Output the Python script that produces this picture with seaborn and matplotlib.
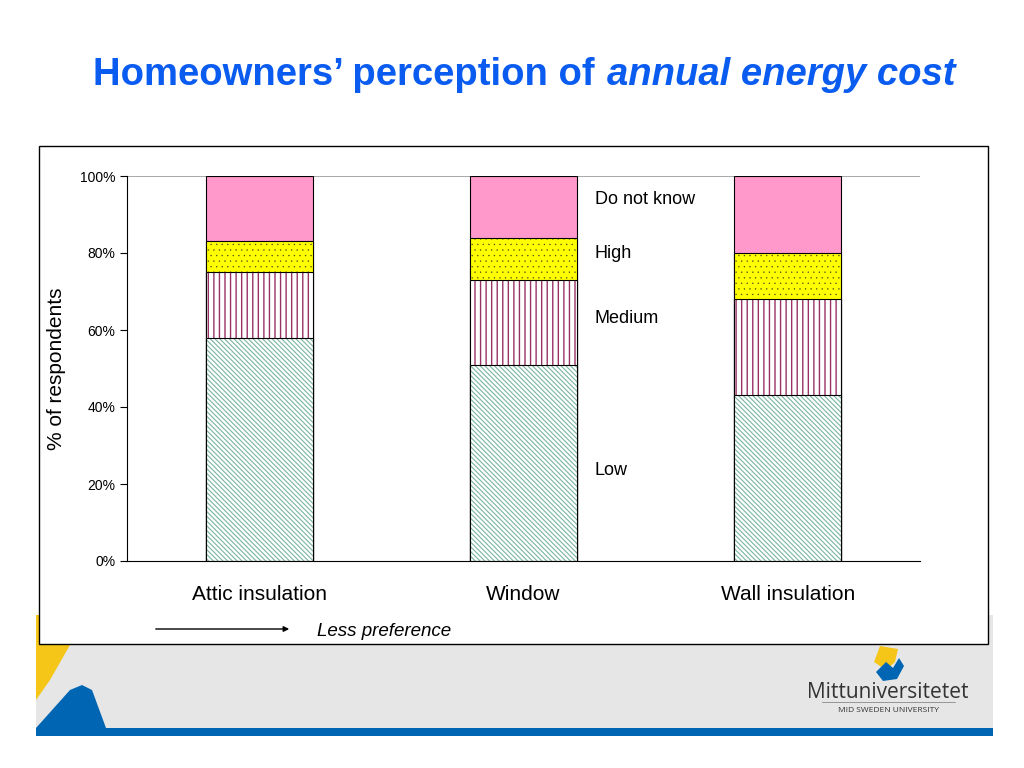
import matplotlib
matplotlib.use("Agg")
import matplotlib.pyplot as plt
import matplotlib.patches as mpatches
import numpy as np
import pandas as pd
import seaborn as sns

categories = ["Attic insulation", "Window", "Wall insulation"]
low = [58, 51, 43]
medium = [17, 22, 25]
high = [8, 11, 12]
do_not_know = [17, 16, 20]
series_names = ["Low", "Medium", "High", "Do not know"]
y_ticks = [0, 20, 40, 60, 80, 100]
y_tick_labels = ["0%", "20%", "40%", "60%", "80%", "100%"]

sns.set_theme(style="white")
plt.rcParams['font.family'] = ['Liberation Sans', 'DejaVu Sans']
plt.rcParams['text.color'] = 'black'
plt.rcParams['axes.labelcolor'] = 'black'
plt.rcParams['xtick.color'] = 'black'
plt.rcParams['ytick.color'] = 'black'

fig = plt.figure(figsize=(10.24, 7.68), dpi=100)
fig.patch.set_facecolor("white")

W, H = 1024, 768
def fx(x): return x / W
def fy(y): return 1 - y / H

# slide decoration: grey band, blue bar, left shapes
fig.add_artist(mpatches.Rectangle((fx(36), fy(728)), fx(993 - 36), (728 - 615) / H,
                                  transform=fig.transFigure, facecolor="#e6e6e6",
                                  edgecolor="none", zorder=0))
fig.add_artist(mpatches.Rectangle((fx(36), fy(736)), fx(993 - 36), 8 / H,
                                  transform=fig.transFigure, facecolor="#0066b3",
                                  edgecolor="none", zorder=0))
fig.add_artist(mpatches.Polygon([(fx(36), fy(700)), (fx(36), fy(615)), (fx(78), fy(615)),
                                 (fx(70), fy(645)), (fx(50), fy(680))],
                                transform=fig.transFigure, facecolor="#f5c518",
                                edgecolor="none", zorder=0))
fig.add_artist(mpatches.Polygon([(fx(36), fy(728)), (fx(70), fy(690)), (fx(82), fy(685)),
                                 (fx(92), fy(690)), (fx(106), fy(728))],
                                transform=fig.transFigure, facecolor="#0066b3",
                                edgecolor="none", zorder=0))
# logo
fig.add_artist(mpatches.Polygon([(fx(874), fy(662)), (fx(880), fy(646)), (fx(898), fy(649)),
                                 (fx(895), fy(662)), (fx(886), fy(670))],
                                transform=fig.transFigure, facecolor="#f5c518",
                                edgecolor="none", zorder=1))
fig.add_artist(mpatches.Polygon([(fx(876), fy(672)), (fx(886), fy(662)), (fx(893), fy(668)),
                                 (fx(899), fy(658)), (fx(904), fy(666)), (fx(897), fy(679)),
                                 (fx(883), fy(681))],
                                transform=fig.transFigure, facecolor="#0066b3",
                                edgecolor="none", zorder=1))
fig.text(fx(888), fy(692), "Mittuniversitetet", ha="center", va="center",
         fontsize=15, color="#333333", family=["Open Sans", "DejaVu Sans"], zorder=2)
fig.add_artist(plt.Line2D([fx(822), fx(955)], [fy(702), fy(702)], transform=fig.transFigure,
                          color="#888888", linewidth=0.6, zorder=2))
fig.text(fx(888), fy(710), "MID SWEDEN UNIVERSITY", ha="center", va="center",
         fontsize=6, color="#333333", family=["Open Sans", "DejaVu Sans"], zorder=2)

# chart box
fig.add_artist(mpatches.Rectangle((fx(39), fy(644)), fx(988 - 39), (644 - 146) / H,
                                  transform=fig.transFigure, facecolor="white",
                                  edgecolor="black", linewidth=1.0, zorder=1))

# title
title_size = 27.5
t = fig.text(fx(93), fy(75), "Homeowners\u2019 perception of ", ha="left", va="center",
             fontsize=title_size, fontweight="bold", color="#0a5cf0", zorder=3)
fig.canvas.draw()
bb = t.get_window_extent()
fig.text(bb.x1 / W + 0.002, fy(75), "annual energy cost", ha="left", va="center",
         fontsize=title_size, fontweight="bold", style="italic", color="#0a5cf0", zorder=3)

ax = fig.add_axes([fx(127), fy(561), fx(920 - 127), (561 - 176) / H])
ax.set_zorder(2)
ax.patch.set_alpha(0)

df = pd.DataFrame({"category": categories, "Low": low, "Medium": medium,
                   "High": high, "Do not know": do_not_know})
cum = df[series_names].cumsum(axis=1)

styles = {
    "Do not know": dict(face="#ff99cc", hatch=None, hc="#ff99cc", hlw=1.0),
    "High": dict(face="#ffff00", hatch="...", hc="#444422", hlw=0.2),
    "Medium": dict(face="white", hatch="|||", hc="#993366", hlw=1.0),
    "Low": dict(face="white", hatch="\\" * 7, hc="#7ab5a0", hlw=0.8),
}

bar_width = 0.405
for name in reversed(series_names):
    st = styles[name]
    with plt.rc_context({"hatch.linewidth": st["hlw"]}):
        n0 = len(ax.patches)
        sns.barplot(x=df["category"], y=cum[name], ax=ax, width=bar_width,
                    color=st["face"], saturation=1, order=categories)
        for p in ax.patches[n0:]:
            p.set_facecolor(st["face"])
            if st["hatch"]:
                p.set_hatch(st["hatch"])
            p.set_edgecolor(st["hc"])
            p.set_linewidth(0)
            if hasattr(p, "set_hatch_linewidth"):
                p.set_hatch_linewidth(st["hlw"])
    # border
    n1 = len(ax.patches)
    sns.barplot(x=df["category"], y=cum[name], ax=ax, width=bar_width,
                fill=False, order=categories)
    for p in ax.patches[n1:]:
        p.set_edgecolor("black")
        p.set_linewidth(0.8)
        p.set_facecolor("none")

ax.set_xlim(-0.5, 2.5)
ax.set_ylim(0, 100)
ax.set_yticks(y_ticks)
ax.set_yticklabels(y_tick_labels, fontsize=10)
ax.set_xticks([0, 1, 2])
ax.set_xticklabels(categories, fontsize=15)
ax.set_xticks([-0.5, 0.5, 1.5, 2.5], minor=True)
ax.tick_params(axis="x", which="major", length=0, pad=17)
ax.tick_params(axis="x", which="minor", length=5, width=0.8, direction="out", color="black")
ax.tick_params(axis="y", which="major", length=5, width=0.8, direction="out", color="black", left=True)
ax.axhline(100, color="#999999", linewidth=1.2, zorder=0)
for s in ["top", "right"]:
    ax.spines[s].set_visible(False)
ax.spines["left"].set_color("black")
ax.spines["bottom"].set_color("black")
ax.spines["left"].set_linewidth(0.8)
ax.spines["bottom"].set_linewidth(0.8)
ax.set_xlabel("")
ax.set_ylabel("% of respondents", fontsize=15, labelpad=10)

# series labels next to Window bar
label_pos = {"Do not know": 93.8, "High": 80.0, "Medium": 63.1, "Low": 23.6}
for name in series_names:
    ax.text(1.27, label_pos[name], name, fontsize=13, ha="left", va="center", color="black")

# arrow annotation
fig.add_artist(mpatches.FancyArrowPatch((fx(153), fy(629)), (fx(292), fy(629)),
                                        transform=fig.transFigure, arrowstyle="-|>",
                                        mutation_scale=8, color="black", linewidth=1.0,
                                        zorder=3))
fig.text(fx(317), fy(631), "Less preference", ha="left", va="center", fontsize=13.5,
         style="italic", color="black", zorder=3)

fig.savefig("out.png", dpi=100)
